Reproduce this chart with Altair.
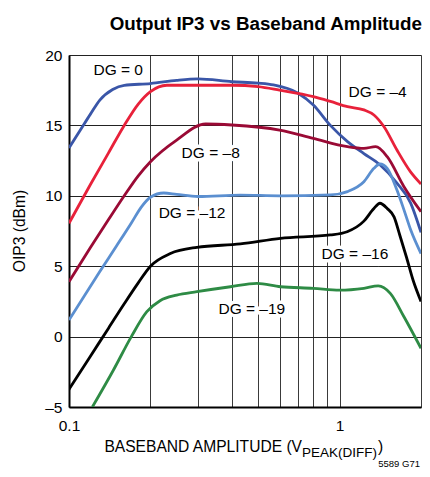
import altair as alt
import pandas as pd

# ---- data ----
dg0_x = [0.1, 0.11, 0.12, 0.13, 0.145, 0.16, 0.2, 0.25, 0.3, 0.4, 0.5, 0.57, 0.7, 0.8, 0.925, 1.07, 1.23, 1.41, 1.63, 1.83, 2.0]
dg0_y = [13.4, 14.65, 15.8, 16.8, 17.55, 17.85, 17.97, 18.2, 18.3, 18.1, 18.0, 17.87, 17.3, 16.45, 15.0, 13.85, 13.0, 12.2, 10.9, 9.5, 7.4]

dg4_x = [0.1, 0.12, 0.14, 0.16, 0.18, 0.2, 0.23, 0.3, 0.4, 0.5, 0.6, 0.8, 0.925, 1.07, 1.23, 1.34, 1.46, 1.63, 1.83, 2.0]
dg4_y = [8.05, 10.8, 13.05, 15.0, 16.5, 17.4, 17.85, 17.85, 17.85, 17.75, 17.5, 17.04, 16.7, 16.33, 16.1, 15.74, 14.9, 13.25, 11.7, 10.84]

dg8_x = [0.1, 0.12, 0.14, 0.16, 0.18, 0.2, 0.25, 0.32, 0.4, 0.6, 0.8, 1.07, 1.23, 1.36, 1.5, 1.73, 2.0]
dg8_y = [3.9, 6.32, 8.31, 10.0, 11.4, 12.42, 13.96, 15.1, 15.03, 14.67, 14.08, 13.49, 13.37, 13.49, 12.78, 10.65, 8.87]

dg12_x = [0.1, 0.13, 0.15, 0.17, 0.185, 0.2, 0.224, 0.25, 0.3, 0.43, 0.6, 0.925, 1.07, 1.23, 1.34, 1.41, 1.5, 1.63, 1.73, 1.83, 2.0]
dg12_y = [1.18, 4.62, 6.45, 8.07, 9.2, 9.9, 10.2, 10.1, 9.95, 10.05, 10.0, 10.06, 10.3, 11.0, 11.95, 12.26, 11.95, 10.41, 9.0, 7.6, 5.9]

dg16_x = [0.1, 0.12, 0.14, 0.16, 0.18, 0.2, 0.237, 0.297, 0.43, 0.605, 0.925, 1.067, 1.23, 1.34, 1.41, 1.5, 1.59, 1.67, 1.77, 1.87, 2.0]
dg16_y = [-3.75, -1.39, 0.6, 2.33, 3.8, 5.0, 5.9, 6.34, 6.58, 6.98, 7.22, 7.45, 8.2, 9.1, 9.47, 9.1, 8.5, 7.2, 5.6, 4.0, 2.5]

dg19_x = [0.122, 0.146, 0.17, 0.194, 0.217, 0.25, 0.297, 0.395, 0.495, 0.605, 0.8, 1.0, 1.23, 1.39, 1.54, 1.73, 2.0]
dg19_y = [-5.0, -2.37, 0.0, 1.77, 2.55, 2.95, 3.19, 3.54, 3.78, 3.54, 3.43, 3.3, 3.43, 3.6, 3.07, 1.41, -0.83]

series_names = ["DG = 0", "DG = –4", "DG = –8", "DG = –12", "DG = –16", "DG = –19"]
series_colors = ["#3a56a8", "#e8213a", "#9a0a35", "#5b8fd0", "#000000", "#2e8b45"]

label_text = ["DG = 0", "DG = –4", "DG = –8", "DG = –12", "DG = –16", "DG = –19"]
label_x = [0.152, 1.383, 0.334, 0.285, 1.14, 0.474]
label_y = [18.93, 17.37, 13.04, 8.78, 5.87, 1.96]

x_grid = [0.1, 0.2, 0.3, 0.4, 0.5, 0.6, 0.7, 0.8, 0.9, 1.0, 2.0]
y_ticks = [-5, 0, 5, 10, 15, 20]

# ---- build table ----
rows = []
for name, xs, ys in zip(series_names,
                        [dg0_x, dg4_x, dg8_x, dg12_x, dg16_x, dg19_x],
                        [dg0_y, dg4_y, dg8_y, dg12_y, dg16_y, dg19_y]):
    for i, (xv, yv) in enumerate(zip(xs, ys)):
        rows.append({"series": name, "x": xv, "y": yv, "order": i})
df = pd.DataFrame(rows)
labels = pd.DataFrame({"text": label_text, "x": label_x, "y": label_y})

FONT = "Liberation Sans"

xscale = alt.Scale(type="log", domain=[0.1, 2], nice=False)
yscale = alt.Scale(domain=[-5, 20], nice=False)

xaxis = alt.Axis(values=x_grid, title=None, ticks=False, grid=True,
                 gridColor="#3a3a3a", gridWidth=1, domainColor="#000", domainWidth=2,
                 labelExpr="datum.value == 1 ? '1' : (datum.value < 0.11 ? '0.1' : '')",
                 labelFont=FONT, labelFontSize=15.5, labelColor="#000", labelPadding=11,
                 labelFlush=False)
yaxis = alt.Axis(values=y_ticks, title=None, ticks=False, grid=True,
                 gridColor="#222", gridWidth=1, domainColor="#000", domainWidth=2,
                 labelExpr="datum.value < 0 ? '–' + abs(datum.value) : datum.label",
                 labelFont=FONT, labelFontSize=15.5, labelColor="#000", labelPadding=7)

lines = alt.Chart(df).mark_line(strokeWidth=2.8, interpolate="monotone", clip=True).encode(
    x=alt.X("x:Q", scale=xscale, axis=xaxis),
    y=alt.Y("y:Q", scale=yscale, axis=yaxis),
    color=alt.Color("series:N", scale=alt.Scale(domain=series_names, range=series_colors), legend=None),
    detail="series:N",
    order="order:Q",
)

halo = alt.Chart(labels).mark_text(font=FONT, fontSize=15.5, stroke="white", strokeWidth=7,
                                   fill="white", baseline="middle").encode(
    x=alt.X("x:Q", scale=xscale), y=alt.Y("y:Q", scale=yscale), text="text:N")
texts = alt.Chart(labels).mark_text(font=FONT, fontSize=15.5, color="#000", baseline="middle").encode(
    x=alt.X("x:Q", scale=xscale), y=alt.Y("y:Q", scale=yscale), text="text:N")

def free_text(txt, x, y, size, align="left", bold=False, angle=0, baseline="alphabetic", font=FONT):
    return alt.Chart(pd.DataFrame({"t": [txt]})).mark_text(
        font=font, fontSize=size, align=align, baseline=baseline,
        fontWeight="bold" if bold else "normal", angle=angle, color="#000"
    ).encode(x=alt.value(x), y=alt.value(y), text="t:N")

title = free_text("Output IP3 vs Baseband Amplitude", 353, -25, 18.8, align="right", bold=True)
xt1 = free_text("BASEBAND AMPLITUDE (V", 233, 397, 15.6, align="right")
xt2 = free_text("PEAK(DIFF)", 233, 402, 13.5, align="left")
xt3 = free_text(")", 309, 397, 15.6, align="left")
yt = free_text("OIP3 (dBm)", -49.5, 176, 15.6, align="center", angle=270, baseline="middle")
foot = free_text("5589 G71", 351, 412, 9.5, align="right")

chart = alt.layer(halo, lines, texts, title, xt1, xt2, xt3, yt, foot).properties(
    width=352, height=352,
    autosize=alt.AutoSizeParams(type="none"),
    padding={"left": 61, "top": 47, "right": 1, "bottom": 62},
).configure_view(stroke="#000", strokeWidth=2).configure(background="white")

chart.save("out.html", embed_options={"renderer": "svg", "actions": False})
